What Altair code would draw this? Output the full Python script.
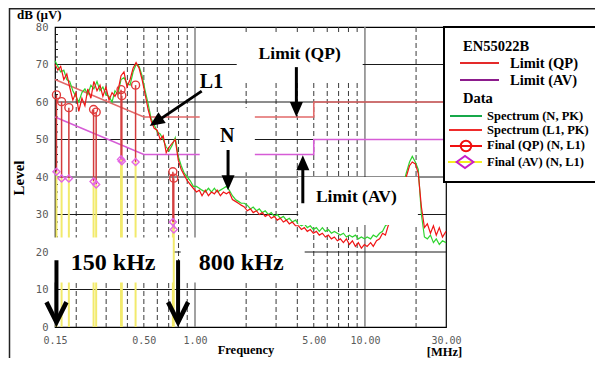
import altair as alt
import pandas as pd

# ---------------- data ----------------
freq = [
    0.150, 0.156, 0.162, 0.169, 0.176, 0.183, 0.191, 0.199, 0.207, 0.216,
    0.225, 0.234, 0.244, 0.254, 0.265, 0.276, 0.287, 0.299, 0.312, 0.325,
    0.338, 0.352, 0.367, 0.382, 0.398, 0.415, 0.432, 0.450, 0.469, 0.488,
    0.509, 0.530, 0.552, 0.575, 0.599, 0.624, 0.650, 0.677, 0.705, 0.734,
    0.765, 0.797, 0.830, 0.864, 0.900, 0.938, 0.977, 1.02, 1.06, 1.10,
    1.15, 1.20, 1.25, 1.30, 1.35, 1.41, 1.47, 1.53, 1.59, 1.66,
    1.73, 1.80, 1.87, 1.95, 2.03, 2.12, 2.20, 2.30, 2.39, 2.49,
    2.59, 2.70, 2.81, 2.93, 3.05, 3.18, 3.31, 3.45, 3.59, 3.74,
    3.90, 4.06, 4.23, 4.40, 4.58, 4.77, 4.97, 5.18, 5.39, 5.62,
    5.85, 6.09, 6.35, 6.61, 6.88, 7.17, 7.47, 7.78, 8.10, 8.44,
    8.79, 9.15, 9.53, 9.93, 10.3, 10.8, 11.2, 11.7, 12.2, 12.7,
    13.2, 13.7, 14.3, 14.9, 15.5, 16.2, 16.8, 17.5, 18.3, 19.0,
    19.8, 20.6, 21.5, 22.4, 23.3, 24.3, 25.3, 26.3, 27.4, 28.6,
    30.0,
]
spec_L1 = [
    70.0, 68.5, 69.5, 66.0, 67.5, 64.0, 60.5, 62.5, 57.5, 61.0,
    59.0, 63.5, 61.0, 65.5, 63.0, 64.5, 61.5, 64.0, 60.5, 62.5,
    61.5, 63.0, 67.0, 68.0, 64.0, 66.0, 69.0, 70.5, 69.0, 66.0,
    62.0, 58.0, 55.0, 53.0, 52.5, 50.0, 51.0, 46.5, 48.0, 49.0,
    50.0, 44.5, 42.0, 40.5, 39.0, 38.0, 37.0, 36.0, 36.5, 35.0,
    36.5, 35.0, 36.0, 35.5, 36.5, 35.0, 36.0, 35.5, 36.0, 34.0,
    33.5, 33.0, 32.5, 32.0, 31.0, 31.5, 30.5, 31.0, 30.0, 30.5,
    29.5, 30.0, 29.0, 29.5, 28.5, 29.0, 28.0, 28.5, 27.5, 28.0,
    27.0, 27.0, 26.0, 26.5, 25.5, 26.0, 25.0, 25.5, 24.5, 25.0,
    24.0, 24.5, 23.5, 24.0, 23.0, 23.5, 22.5, 23.5, 22.0, 23.0,
    21.5, 22.5, 21.0, 22.0, 21.5, 22.5, 21.5, 23.0, 23.5, 25.0,
    24.5, 27.0, 28.5, 30.0, 32.0, 34.0, 37.0, 40.0, 43.0, 44.0,
    43.5, 41.0, 32.0, 26.5, 27.5, 25.0, 27.0, 24.5, 26.5, 24.0,
    25.5,
]
spec_N = [
    71.0, 69.5, 68.0, 68.5, 66.0, 65.5, 63.0, 61.5, 60.0, 62.5,
    63.5, 62.0, 64.5, 63.5, 65.5, 63.0, 64.0, 62.0, 61.5, 60.0,
    63.0, 62.0, 66.0, 66.5, 65.0, 64.5, 68.0, 70.0, 69.5, 67.0,
    63.0, 59.5, 55.5, 54.0, 52.0, 51.5, 50.0, 48.0, 47.0, 48.5,
    50.5, 45.5, 43.0, 41.0, 40.0, 39.0, 37.5, 37.5, 37.0, 36.5,
    36.0, 37.0, 36.0, 37.0, 36.0, 36.5, 37.0, 37.5, 36.5, 35.0,
    34.0, 33.5, 33.0, 33.0, 32.5, 31.5, 32.0, 31.0, 31.5, 30.5,
    31.0, 30.0, 30.5, 29.5, 30.0, 29.0, 29.5, 28.5, 29.0, 28.0,
    28.5, 27.5, 27.0, 27.5, 26.5, 27.0, 26.0, 26.5, 25.5, 26.5,
    25.5, 26.0, 25.0, 25.5, 25.0, 24.5, 25.0, 24.0, 24.5, 24.0,
    24.5, 23.5, 24.0, 23.5, 24.0, 23.5, 24.5, 24.0, 25.0, 25.5,
    27.0, 27.5, 29.0, 31.0, 33.0, 35.0, 38.0, 41.0, 44.0, 45.5,
    44.0, 42.0, 30.0, 24.0, 23.5, 24.5, 22.5, 23.5, 22.0, 23.0,
    22.5,
]

limit_f = [0.15, 0.5, 5.0, 5.0, 30.0]
limit_qp = [66, 56, 56, 60, 60]
limit_av = [56, 46, 46, 50, 50]

final_f = [0.153, 0.164, 0.181, 0.253, 0.262, 0.367, 0.371, 0.447, 0.741, 0.750]
final_qp = [61.9, 60.1, 58.5, 58.0, 57.3, 63.3, 61.7, 64.5, 41.4, 39.7]
final_av = [41.4, 39.6, 39.6, 38.8, 38.0, 44.7, 44.2, 44.0, 28.0, 26.0]

dash_f = [0.2, 0.3, 0.4, 0.5, 0.6, 0.7, 0.8, 0.9, 2, 3, 4, 5, 6, 7, 8, 9, 20]
solid_f = [1, 10]
grid_db = [10, 20, 30, 40, 50, 60, 70]
minor_db = [2, 4, 6, 8, 12, 14, 16, 18, 22, 24, 26, 28, 32, 34, 36, 38,
            42, 44, 46, 48, 52, 54, 56, 58, 62, 64, 66, 68, 72, 74, 76, 78]
x_ticks = [0.15, 0.5, 1, 5, 10, 30]
y_ticks = [0, 10, 20, 30, 40, 50, 60, 70, 80]

# annotation overlay (white boxes, labels, arrows) in data coordinates
box_f1 = [1.76, 1.066, 4.05, 0.144, 0.824]
box_f2 = [9.7, 2.25, 20.5, 0.74, 4.42]
box_d1 = [65.9, 41.3, 27.2, 11.9, 11.9]
box_d2 = [77.9, 58.4, 40.0, 23.9, 23.9]

note_text = ["Limit (QP)", "L1", "N", "Limit (AV)", "150 kHz", "800 kHz"]
note_f = [4.13, 1.25, 1.55, 8.9, 0.33, 1.87]
note_db = [71.5, 63.7, 49.3, 33.3, 15.1, 15.1]
note_size = [17.5, 20, 20, 17.5, 24, 24]

shaft_f1 = [3.95, 1.565, 4.31, 1.095]
shaft_d1 = [69.3, 47.2, 33.0, 62.9]
shaft_f2 = [3.95, 1.565, 4.31, 0.60]
shaft_d2 = [58.4, 38.9, 43.4, 54.9]
head_f = [3.95, 1.565, 4.31, 0.541]
head_d = [56.0, 36.5, 45.8, 53.6]
head_angle = [0, 0, 180, 56]

v_f = [0.153, 0.795]
v_top = [17.8, 17.8]
v_tip = [1.3, 1.3]

legend_title = ["EN55022B", "Data"]
legend_limits = ["Limit (QP)", "Limit (AV)"]
legend_data = ["Spectrum (N, PK)", "Spectrum (L1, PK)", "Final (QP) (N, L1)", "Final (AV) (N, L1)"]

# ---------------- styling helpers ----------------
SERIF = "Liberation Serif"
MONO = "DejaVu Sans Mono"
xs = alt.Scale(type="log", domain=[0.15, 30], nice=False)
ys = alt.Scale(domain=[0, 80], nice=False, zero=False)
xaxis = alt.Axis(values=x_ticks, format=".2f", labelFont=MONO, labelFontSize=10,
                 labelColor="#5a5a5a", labelPadding=8, ticks=False, domain=False,
                 grid=False, title=None, labelFlush=False, labelOverlap=False)
yaxis = alt.Axis(values=y_ticks, format="d", labelFont=MONO, labelFontSize=10.5,
                 labelColor="#5a5a5a", labelPadding=7, ticks=False, domain=False,
                 grid=False, title=None, labelOverlap=False)


def X(field):
    return alt.X(field, type="quantitative", scale=xs, axis=xaxis)


def Y(field):
    return alt.Y(field, type="quantitative", scale=ys, axis=yaxis)


one = pd.DataFrame({"k": [0]})
layers = []

# grid
layers.append(alt.Chart(pd.DataFrame({"f": dash_f})).mark_rule(
    color="#3a3a3a", strokeDash=[5, 3], strokeWidth=1).encode(x=X("f")))
layers.append(alt.Chart(pd.DataFrame({"f": solid_f})).mark_rule(
    color="#8a8a8a", strokeWidth=1.6).encode(x=X("f")))
layers.append(alt.Chart(pd.DataFrame({"db": grid_db})).mark_rule(
    color="#1a1a1a", strokeWidth=1).encode(y=Y("db")))
layers.append(alt.Chart(pd.DataFrame({"db": minor_db})).mark_rule(
    color="#1a1a1a", strokeWidth=1).encode(y=Y("db"), x=alt.value(0), x2=alt.value(3)))

# limits
lim = pd.DataFrame({"f": limit_f, "qp": limit_qp, "av": limit_av, "i": list(range(len(limit_f)))})
layers.append(alt.Chart(lim).mark_line(color="#e26a6a", strokeWidth=1.6).encode(
    x=X("f"), y=Y("qp"), order="i:Q"))
layers.append(alt.Chart(lim).mark_line(color="#d65cd6", strokeWidth=1.6).encode(
    x=X("f"), y=Y("av"), order="i:Q"))

# spectra
spec = pd.DataFrame({"f": freq, "n": spec_N, "l1": spec_L1, "i": list(range(len(freq)))})
layers.append(alt.Chart(spec).mark_line(color="#2fd42f", strokeWidth=1.2).encode(
    x=X("f"), y=Y("n"), order="i:Q"))
layers.append(alt.Chart(spec).mark_line(color="#f01515", strokeWidth=1.2).encode(
    x=X("f"), y=Y("l1"), order="i:Q"))

# final measurements
fin = pd.DataFrame({"f": final_f, "qp": final_qp, "av": final_av})
fin["base"] = 0
layers.append(alt.Chart(fin).mark_rule(color="#d43c3c", strokeWidth=1.5).encode(
    x=X("f"), y=Y("qp"), y2="av"))
layers.append(alt.Chart(fin).mark_rule(color="#f2ea6c", strokeWidth=2).encode(
    x=X("f"), y=Y("av"), y2="base"))
layers.append(alt.Chart(fin).mark_point(shape="circle", filled=False, size=64, strokeWidth=1.4,
                                        color="#e03a3a", opacity=1).encode(x=X("f"), y=Y("qp")))
layers.append(alt.Chart(fin).mark_point(shape="diamond", filled=False, size=50, strokeWidth=1.4,
                                        color="#e466e4", opacity=1).encode(x=X("f"), y=Y("av")))

# white annotation boxes
boxes = pd.DataFrame({"f1": box_f1, "f2": box_f2, "d1": box_d1, "d2": box_d2})
layers.append(alt.Chart(boxes).mark_rect(fill="white", opacity=1).encode(
    x=X("f1"), x2="f2", y=Y("d1"), y2="d2"))

# annotation text
notes = pd.DataFrame({"t": note_text, "f": note_f, "d": note_db, "s": note_size})
layers.append(alt.Chart(notes).mark_text(font=SERIF, fontWeight="bold", color="black",
                                         align="center", baseline="alphabetic").encode(
    x=X("f"), y=Y("d"), text="t:N", size=alt.Size("s:Q", scale=None)))

# arrows
shafts = pd.DataFrame({"f1": shaft_f1, "d1": shaft_d1, "f2": shaft_f2, "d2": shaft_d2})
layers.append(alt.Chart(shafts).mark_rule(color="black", strokeWidth=3).encode(
    x=X("f1"), x2="f2", y=Y("d1"), y2="d2"))
heads = pd.DataFrame({"f": head_f, "d": head_d, "a": head_angle})
layers.append(alt.Chart(heads).mark_point(shape="M0,0L-0.87,-2L0.87,-2Z", filled=True, size=225,
                                          color="black", opacity=1, strokeWidth=0).encode(
    x=X("f"), y=Y("d"), angle=alt.Angle("a:Q", scale=None)))
varr = pd.DataFrame({"f": v_f, "top": v_top, "tip": v_tip})
layers.append(alt.Chart(varr).mark_rule(color="black", strokeWidth=4).encode(
    x=X("f"), y=Y("top"), y2="tip"))
layers.append(alt.Chart(varr).mark_point(shape="M-1,-2L0,0L1,-2", filled=False, size=400,
                                         color="black", opacity=1, strokeWidth=4.5,
                                         strokeJoin="miter").encode(x=X("f"), y=Y("tip")))

# legend box (pixel positions, outside the data area)
layers.append(alt.Chart(one).mark_rect(fill="white", stroke="black", strokeWidth=2).encode(
    x=alt.value(389), x2=alt.value(620), y=alt.value(0), y2=alt.value(155)))


def lrule(x1, x2, y, color, w=2):
    return alt.Chart(one).mark_rule(color=color, strokeWidth=w).encode(
        x=alt.value(x1), x2=alt.value(x2), y=alt.value(y))


def ltext(t, x, y, size):
    return alt.Chart(pd.DataFrame({"t": [t]})).mark_text(
        font=SERIF, fontWeight="bold", fontSize=size, align="left", baseline="alphabetic",
        color="black").encode(x=alt.value(x), y=alt.value(y), text="t:N")


layers += [
    ltext(legend_title[0], 408, 24, 14.5),
    lrule(405, 444, 36, "#e42a2a"), ltext(legend_limits[0], 455, 41, 14.5),
    lrule(405, 444, 53, "#8c1c8c"), ltext(legend_limits[1], 455, 58, 14.5),
    ltext(legend_title[1], 408, 76, 14.5),
    lrule(395, 427, 89, "#16a84a"), ltext(legend_data[0], 432, 93, 12.5),
    lrule(394, 427, 103, "#ee2c2c"), ltext(legend_data[1], 432, 107, 12.5),
    lrule(395, 427, 119, "#f01010"), ltext(legend_data[2], 432, 122, 12.5),
    lrule(393, 427, 135, "#f4f020"), ltext(legend_data[3], 432, 139, 12.5),
]
layers.append(alt.Chart(one).mark_point(shape="circle", filled=False, size=110, strokeWidth=2,
                                        color="#f01010", opacity=1).encode(
    x=alt.value(411), y=alt.value(119)))
layers.append(alt.Chart(one).mark_point(shape="M-1.4,0L0,-1L1.4,0L0,1Z", filled=False, size=144,
                                        strokeWidth=2, color="#c81ec8", opacity=1).encode(
    x=alt.value(410), y=alt.value(135)))

# titles
layers.append(ltext("dB (µV)", -38, -8, 13))
layers.append(alt.Chart(pd.DataFrame({"t": ["Frequency"]})).mark_text(
    font=SERIF, fontWeight="bold", fontSize=12.5, align="center", baseline="alphabetic").encode(
    x=alt.value(191), y=alt.value(327), text="t:N"))
layers.append(alt.Chart(pd.DataFrame({"t": ["[MHz]"]})).mark_text(
    font=SERIF, fontWeight="bold", fontSize=12.5, align="center", baseline="alphabetic").encode(
    x=alt.value(389.5), y=alt.value(329), text="t:N"))
layers.append(alt.Chart(pd.DataFrame({"t": ["Level"]})).mark_text(
    font=SERIF, fontWeight="bold", fontSize=15, align="center", baseline="middle", angle=270).encode(
    x=alt.value(-36.5), y=alt.value(151), text="t:N"))

# outer frame
layers.append(alt.Chart(one).mark_rule(color="#222", strokeWidth=1.5).encode(
    x=alt.value(-45.5), y=alt.value(-19), y2=alt.value(340)))
layers.append(alt.Chart(one).mark_rule(color="#222", strokeWidth=1.5).encode(
    x=alt.value(-46), x2=alt.value(545), y=alt.value(-18.2)))

chart = alt.layer(*layers).properties(
    width=391, height=300,
    autosize=alt.AutoSizeParams(type="none"),
    padding={"left": 47, "top": 19, "right": 149, "bottom": 31},
    background="white",
).configure_view(stroke="black", strokeWidth=1.2)

chart.save("out.html", embed_options={"renderer": "svg", "actions": False})
